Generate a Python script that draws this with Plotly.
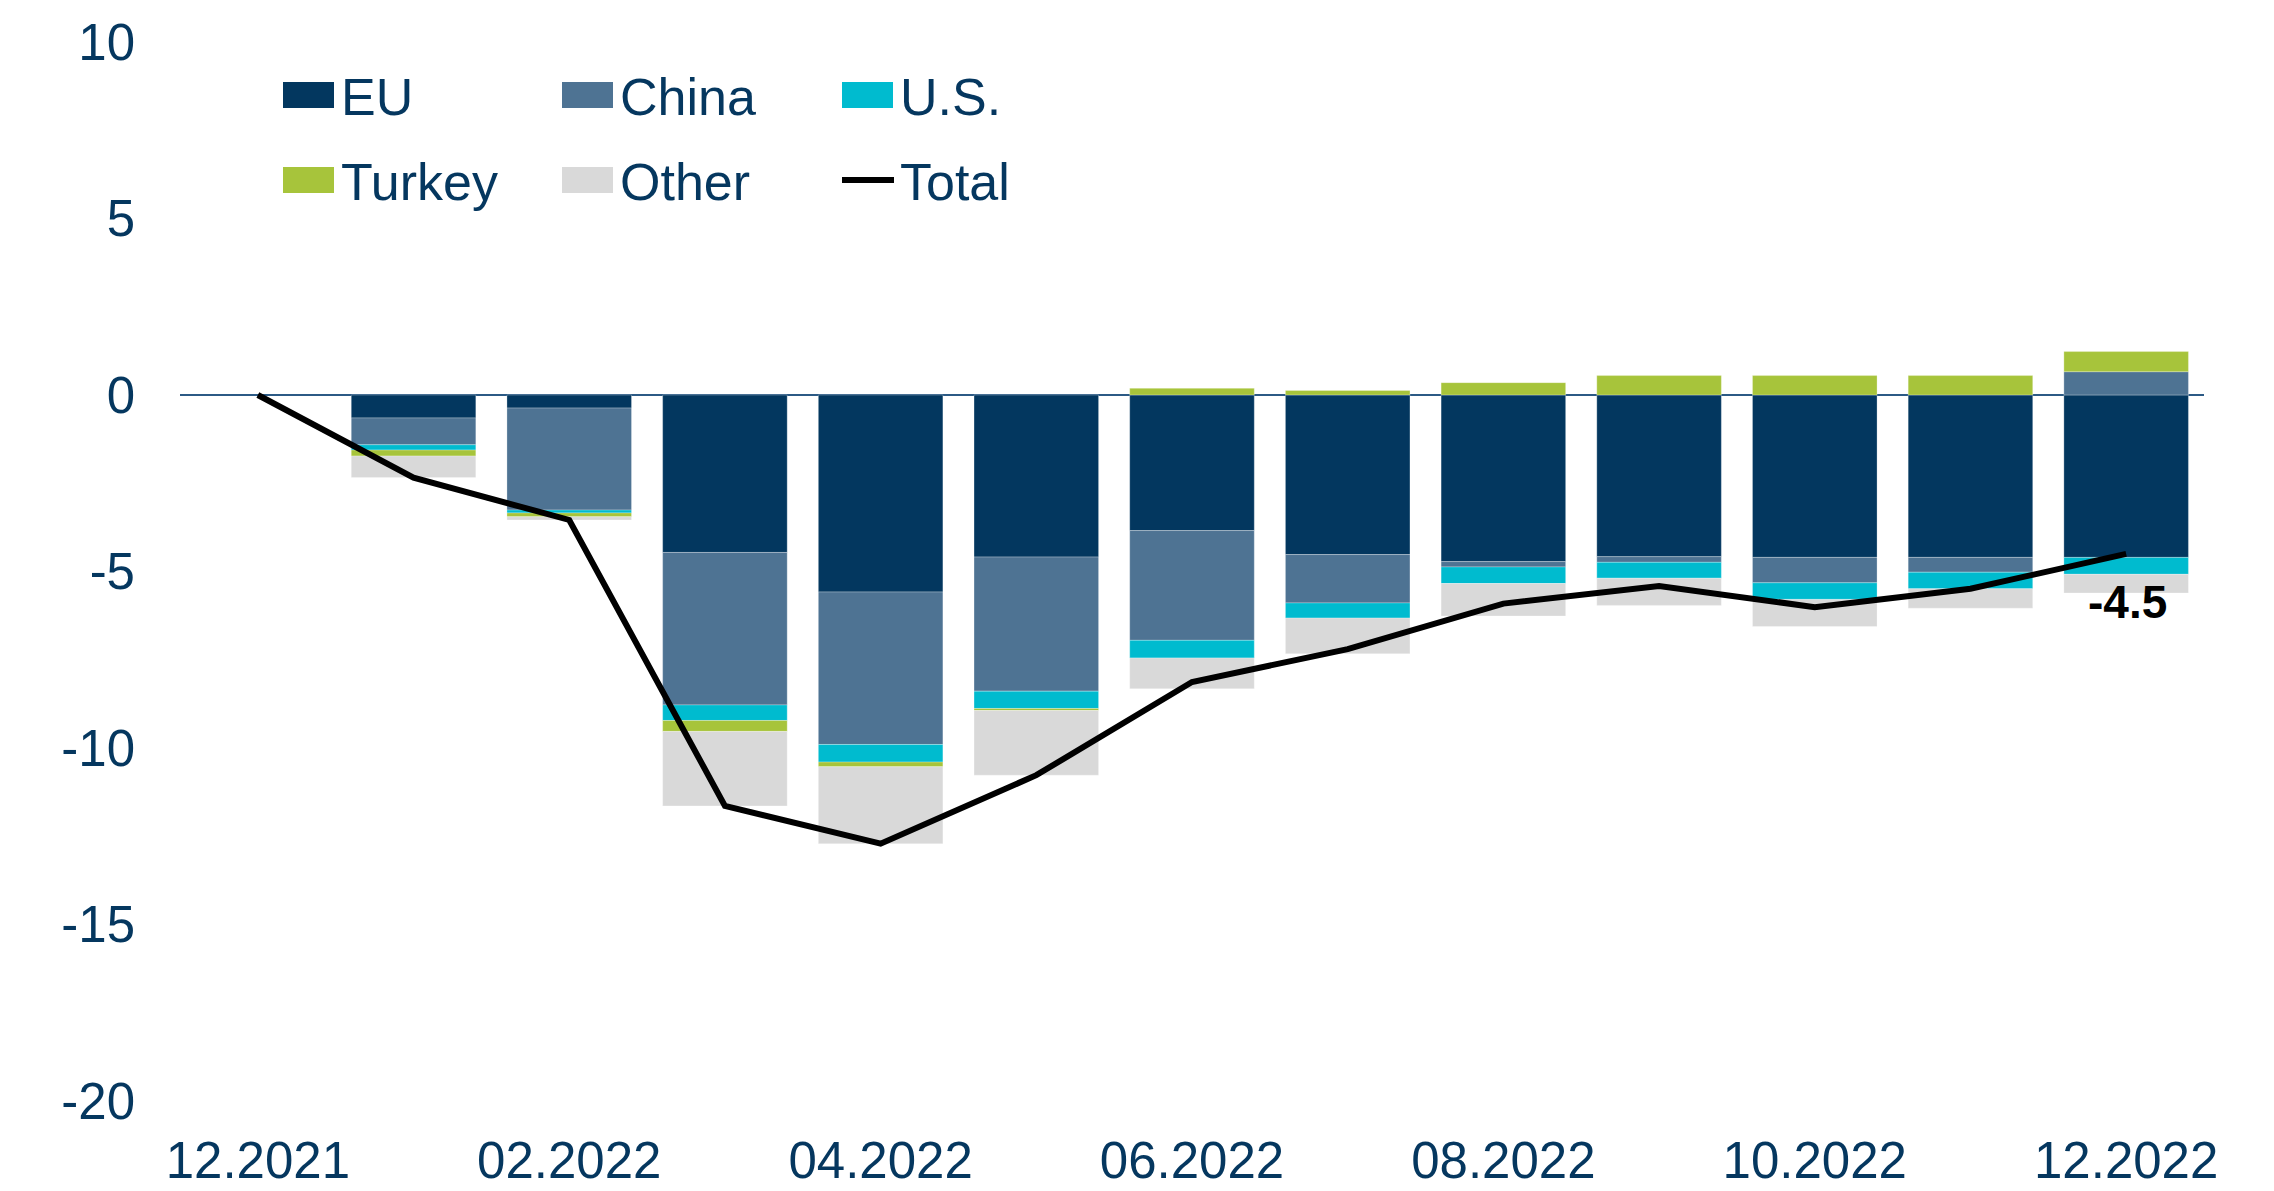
import plotly.graph_objects as go

# Monthly contributions by partner region (percentage points)
months = ["12.2021", "01.2022", "02.2022", "03.2022", "04.2022", "05.2022", "06.2022",
          "07.2022", "08.2022", "09.2022", "10.2022", "11.2022", "12.2022"]
eu = [None, -0.65, -0.37, -4.46, -5.58, -4.59, -3.84, -4.52, -4.72, -4.58, -4.60, -4.60, -4.60]
china = [None, -0.76, -2.89, -4.32, -4.32, -3.80, -3.11, -1.37, -0.15, -0.16, -0.72, -0.42, 0.66]
us = [None, -0.15, -0.08, -0.44, -0.50, -0.49, -0.50, -0.43, -0.47, -0.45, -0.47, -0.47, -0.48]
turkey = [None, -0.17, -0.11, -0.31, -0.13, -0.06, 0.19, 0.13, 0.35, 0.55, 0.55, 0.55, 0.57]
other = [None, -0.61, -0.09, -2.11, -2.18, -1.83, -0.87, -1.01, -0.92, -0.77, -0.77, -0.55, -0.53]
total = [0.0, -2.34, -3.54, -11.64, -12.71, -10.77, -8.13, -7.20, -5.91, -5.41, -6.01, -5.49, -4.5]

tick_months = months[::2]
y_ticks = [10, 5, 0, -5, -10, -15, -20]

FONT = "Liberation Sans, Arial, sans-serif"
TEXT = "#05375f"
colors = {
    "EU": "#03375f",
    "China": "#4e7393",
    "U.S.": "#00bbcf",
    "Turkey": "#a7c43b",
    "Other": "#d9d9d9",
}

W, H = 2274, 1191
L, R, T, B = 180, 70, 42, 90

fig = go.Figure()
for name, vals in [("EU", eu), ("China", china), ("U.S.", us), ("Turkey", turkey), ("Other", other)]:
    fig.add_trace(go.Bar(
        x=months, y=vals, name=name,
        marker=dict(color=colors[name], line=dict(width=0.8, color="rgba(255,255,255,0.35)")),
        showlegend=False,
    ))

fig.add_trace(go.Scatter(
    x=months, y=total, name="Total", mode="lines",
    line=dict(color="black", width=6), showlegend=False,
))

# value label below the last point of the total line
fig.add_annotation(
    x=months[-1], y=total[-1], text=f"{total[-1]:.1f}",
    showarrow=False, xanchor="center", yanchor="middle", yshift=-48, xshift=-30,
    font=dict(family=FONT, size=46, color="black", weight="bold"),
)

# custom legend drawn in pixel space, converted to paper coordinates
pw, ph = W - L - R, H - T - B


def px(x):
    return (x - L) / pw


def py(y):
    return (H - B - y) / ph


legend_items = [
    ("EU", "box", 283, 95),
    ("China", "box", 562, 95),
    ("U.S.", "box", 842, 95),
    ("Turkey", "box", 283, 180),
    ("Other", "box", 562, 180),
    ("Total", "line", 842, 180),
]
for label, kind, x0, yc in legend_items:
    if kind == "box":
        fig.add_shape(type="rect", xref="paper", yref="paper",
                      x0=px(x0), x1=px(x0 + 51), y0=py(yc - 13), y1=py(yc + 13),
                      fillcolor=colors[label], line=dict(width=0))
    else:
        fig.add_shape(type="line", xref="paper", yref="paper",
                      x0=px(x0), x1=px(x0 + 52), y0=py(yc), y1=py(yc),
                      line=dict(color="black", width=6))
    fig.add_annotation(xref="paper", yref="paper", x=px(x0 + 56), y=py(yc + 2),
                       text=label, showarrow=False, xanchor="left", yanchor="middle",
                       font=dict(family=FONT, size=52, color=TEXT))

fig.update_layout(
    width=W, height=H,
    margin=dict(l=L, r=R, t=T, b=B, autoexpand=False),
    barmode="relative", bargap=0.2,
    plot_bgcolor="white", paper_bgcolor="white",
    font=dict(family=FONT, color=TEXT, size=51),
    showlegend=False,
)
fig.update_xaxes(
    type="category", range=[-0.5, len(months) - 0.5],
    tickvals=tick_months, ticktext=tick_months,
    showgrid=False, showline=False, zeroline=False, ticks="",
    automargin=False, ticklabelstandoff=25,
    tickfont=dict(family=FONT, size=51, color=TEXT),
)
fig.update_yaxes(
    range=[-20, 10], tickvals=y_ticks, ticktext=[str(v) for v in y_ticks],
    showgrid=False, showline=False, ticks="",
    zeroline=True, zerolinecolor="#2c5a85", zerolinewidth=2,
    automargin=False, ticklabelstandoff=44,
    tickfont=dict(family=FONT, size=51, color=TEXT),
)

fig.write_html("out.html")
